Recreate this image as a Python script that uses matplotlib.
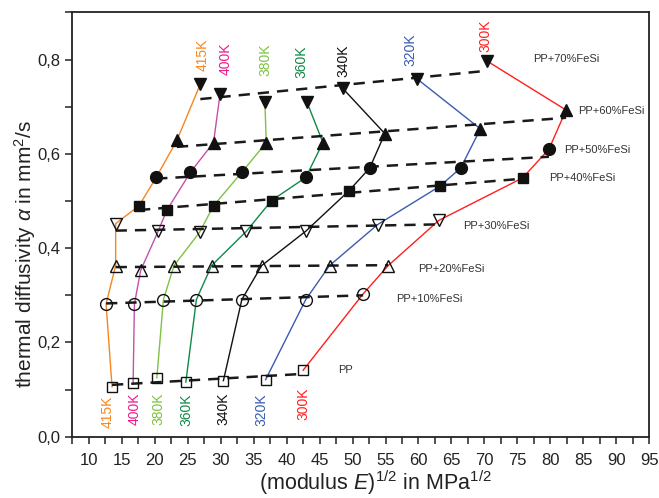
import numpy as np
import matplotlib
matplotlib.use("Agg")
import matplotlib.pyplot as plt
from matplotlib.ticker import MultipleLocator, FuncFormatter

plt.rcParams['font.family'] = ['Liberation Sans', 'DejaVu Sans']
plt.rcParams['mathtext.fontset'] = 'custom'
plt.rcParams['mathtext.rm'] = 'Liberation Sans'
plt.rcParams['mathtext.it'] = 'Liberation Sans:italic'

# temperatures (columns) and compositions (rows)
temps = ['415K', '400K', '380K', '360K', '340K', '320K', '300K']
line_colors = ['#F7861E', '#C650A8', '#7DC242', '#0E8A45', '#111111', '#3A5BB0', '#FF1F1F']
text_colors = ['#F7861E', '#EC1A8C', '#7DC242', '#0E8A45', '#111111', '#3A5BB0', '#FF1F1F']

comps = ['PP', 'PP+10%FeSi', 'PP+20%FeSi', 'PP+30%FeSi',
         'PP+40%FeSi', 'PP+50%FeSi', 'PP+60%FeSi', 'PP+70%FeSi']

# sqrt(E) in MPa^1/2, one list per composition, ordered as temps
x_pp = [13.5, 16.7, 20.3, 24.7, 30.4, 36.8, 42.5]
x_10 = [12.6, 16.9, 21.3, 26.3, 33.2, 42.9, 51.6]
x_20 = [14.05, 17.85, 22.9, 28.6, 36.2, 46.5, 55.4]
x_30 = [14.05, 20.5, 26.8, 33.9, 42.9, 53.8, 63.1]
x_40 = [17.6, 21.8, 28.9, 37.7, 49.4, 63.2, 75.8]
x_50 = [20.2, 25.4, 33.2, 42.9, 52.6, 66.4, 79.8]
x_60 = [23.35, 28.9, 36.9, 45.5, 54.9, 69.4, 82.4]
x_70 = [26.9, 29.9, 36.7, 43.1, 48.5, 59.8, 70.4]

# thermal diffusivity in mm^2/s
y_pp = [0.106, 0.115, 0.125, 0.116, 0.119, 0.121, 0.141]
y_10 = [0.282, 0.282, 0.291, 0.291, 0.291, 0.291, 0.303]
y_20 = [0.363, 0.353, 0.363, 0.363, 0.363, 0.363, 0.363]
y_30 = [0.452, 0.436, 0.434, 0.436, 0.436, 0.450, 0.459]
y_40 = [0.490, 0.480, 0.490, 0.501, 0.521, 0.531, 0.549]
y_50 = [0.550, 0.561, 0.561, 0.550, 0.570, 0.570, 0.610]
y_60 = [0.629, 0.624, 0.624, 0.624, 0.643, 0.653, 0.693]
y_70 = [0.748, 0.728, 0.709, 0.709, 0.739, 0.759, 0.797]

X = np.array([x_pp, x_10, x_20, x_30, x_40, x_50, x_60, x_70])
Y = np.array([y_pp, y_10, y_20, y_30, y_40, y_50, y_60, y_70])

# marker style per composition
markers = ['s', 'o', '^', 'v', 's', 'o', '^', 'v']
filled = [False, False, False, False, True, True, True, True]
msizes = [7.5, 8.5, 9, 9, 7.5, 8.5, 9, 9]

# label positions
comp_lx = [47.8, 56.6, 59.9, 66.75, 79.8, 82.1, 84.2, 77.4]
comp_ly = [0.141, 0.293, 0.356, 0.447, 0.548, 0.608, 0.691, 0.801]
top_lx = [27.3, 30.7, 36.7, 42.2, 48.65, 58.8, 70.2]
top_ly = [0.811, 0.801, 0.799, 0.795, 0.797, 0.822, 0.850]
bot_lx = [12.9, 16.9, 20.5, 24.8, 30.4, 36.2, 42.6]
bot_ly = [0.053, 0.060, 0.060, 0.057, 0.060, 0.057, 0.069]

fig = plt.figure(figsize=(6.59, 4.98), dpi=100)
ax = fig.add_axes([0.110, 0.123, 0.875, 0.852])

# isotherm lines
for j in range(len(temps)):
    ax.plot(X[:, j], Y[:, j], color=line_colors[j], lw=1.0, zorder=2)

# dashed linear trend per composition
for i in range(len(comps)):
    k, b = np.polyfit(X[i], Y[i], 1)
    xs = np.array([X[i].min(), X[i].max()])
    ax.plot(xs, k * xs + b, color='#1a1a1a', lw=1.8, ls=(0, (4.5, 3.2)), zorder=3)

# markers
for i in range(len(comps)):
    ax.plot(X[i], Y[i], ls='none', marker=markers[i], ms=msizes[i],
            mfc='#111111' if filled[i] else 'none', mec='#111111', mew=1.0, zorder=4)
    ax.text(comp_lx[i], comp_ly[i], comps[i], fontsize=8, color='#333333',
            ha='left', va='center')

for j in range(len(temps)):
    ax.text(top_lx[j], top_ly[j], temps[j], rotation=90, fontsize=10,
            color=text_colors[j], ha='center', va='center')
    ax.text(bot_lx[j], bot_ly[j], temps[j], rotation=90, fontsize=10,
            color=text_colors[j], ha='center', va='center')

ax.set_xlim(7.5, 95)
ax.set_ylim(0, 0.9)
ax.xaxis.set_major_locator(MultipleLocator(5))
ax.xaxis.set_minor_locator(MultipleLocator(2.5))
ax.yaxis.set_major_locator(MultipleLocator(0.2))
ax.yaxis.set_minor_locator(MultipleLocator(0.1))
ax.yaxis.set_major_formatter(FuncFormatter(lambda v, p: f"{v:.1f}".replace('.', ',')))
ax.tick_params(which='both', direction='out', length=5, width=1.1,
               labelsize=12, colors='#222222')
ax.tick_params(axis='x', pad=7)
for s in ax.spines.values():
    s.set_linewidth(1.3)
    s.set_color('#222222')

ax.set_xlabel(r'(modulus $E$)$^{1/2}$ in MPa$^{1/2}$', fontsize=15.5, color='#222222', va='center')
ax.xaxis.set_label_coords(0.526, -0.108)
ax.set_ylabel(r'thermal diffusivity $\alpha$ in mm$^2$/s', fontsize=15, color='#222222', va='center')
ax.yaxis.set_label_coords(-0.083, 0.43)

fig.savefig('out.png', dpi=100)
